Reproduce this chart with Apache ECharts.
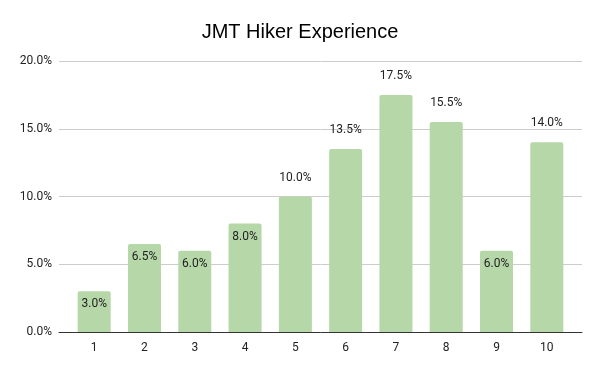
<!DOCTYPE html>
<html>
<head>
<meta charset="utf-8">
<script src="https://cdn.jsdelivr.net/npm/echarts@6/dist/echarts.min.js"></script>
<style>html,body{margin:0;padding:0;background:#fff}#c{width:600px;height:371px}</style>
</head>
<body>
<div id="c"></div>
<script>
const categories = ["1","2","3","4","5","6","7","8","9","10"];
const values = [3.0, 6.5, 6.0, 8.0, 10.0, 13.5, 17.5, 15.5, 6.0, 14.0];
const yTicks = [0, 5, 10, 15, 20];
const insideThreshold = 10;

const chart = echarts.init(document.getElementById('c'), null, {renderer:'canvas'});
const data = values.map((v, i) => ({
  value: [i + 1, v],
  label: v < insideThreshold
    ? {position: 'insideTop', distance: 7}
    : {position: 'top', distance: 13}
}));
chart.setOption({
  animation: false,
  title: {
    text: 'JMT Hiker Experience', left: 'center', top: 17,
    textStyle: {fontFamily: 'Liberation Sans, Arial, sans-serif', fontSize: 20, fontWeight: 'normal', color: '#000'}
  },
  grid: {left: 59, right: 18, top: 61, bottom: 39, containLabel: false},
  xAxis: {
    type: 'value', min: 0.3, max: 10.7,
    axisLine: {show: true, lineStyle: {color: '#333', width: 1}},
    axisTick: {show: false},
    splitLine: {show: false},
    axisLabel: {
      customValues: categories.map((c, i) => i + 1),
      formatter: v => categories[Math.round(v) - 1] || '',
      color: '#222', fontFamily: 'Roboto, sans-serif', fontSize: 12, margin: 10
    }
  },
  yAxis: {
    type: 'value', min: yTicks[0], max: yTicks[yTicks.length - 1], interval: 5,
    axisLine: {show: false}, axisTick: {show: false},
    splitLine: {lineStyle: {color: '#cccccc', width: 1}},
    axisLabel: {formatter: v => v.toFixed(1) + '%', color: '#222', fontFamily: 'Roboto, sans-serif', fontSize: 12, margin: 7}
  },
  series: [{
    type: 'bar', data: data, barWidth: 33,
    itemStyle: {color: '#b6d7a8', borderRadius: [2, 2, 0, 0]},
    label: {show: true, formatter: p => p.value[1].toFixed(1) + '%', color: '#222', fontFamily: 'Roboto, sans-serif', fontSize: 12}
  }]
});
</script>
</body>
</html>
